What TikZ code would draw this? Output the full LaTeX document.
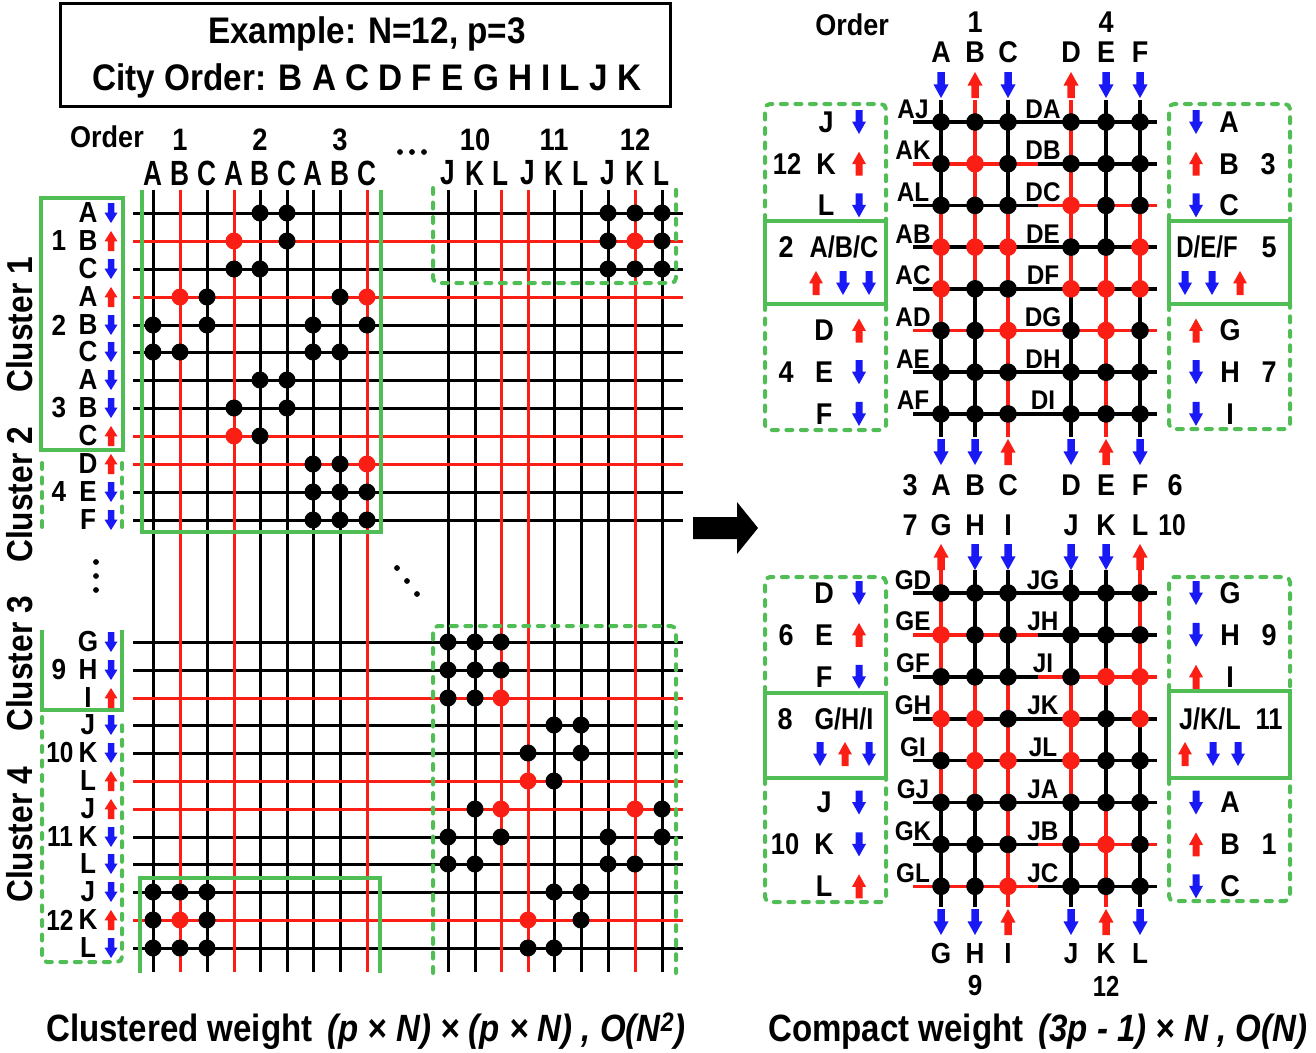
\documentclass[tikz,border=0pt]{standalone}
\usepackage{fontspec}
\setmainfont{Liberation Sans}
\usepackage{graphicx}
\definecolor{gred}{RGB}{250,30,20}
\definecolor{gblue}{RGB}{25,25,245}
\definecolor{ggreen}{RGB}{80,190,85}
\colorlet{Kc}{black}
\colorlet{Rc}{gred}
\newcommand\sx[2]{\scalebox{#1}[1]{#2}}
% down arrow: x, y-centre, length, head width, colour
\newcommand\ADn[5]{\fill[#5] ({#1-0.25*#4},{#2-0.5*#3}) -- ({#1+0.25*#4},{#2-0.5*#3}) -- ({#1+0.25*#4},{#2-0.02*#3}) -- ({#1+0.5*#4},{#2-0.02*#3}) -- ({#1},{#2+0.5*#3}) -- ({#1-0.5*#4},{#2-0.02*#3}) -- ({#1-0.25*#4},{#2-0.02*#3}) -- cycle;}
\newcommand\AUp[5]{\fill[#5] ({#1-0.25*#4},{#2+0.5*#3}) -- ({#1+0.25*#4},{#2+0.5*#3}) -- ({#1+0.25*#4},{#2+0.02*#3}) -- ({#1+0.5*#4},{#2+0.02*#3}) -- ({#1},{#2-0.5*#3}) -- ({#1-0.5*#4},{#2+0.02*#3}) -- ({#1-0.25*#4},{#2+0.02*#3}) -- cycle;}
\newcommand\vcol[3]{\foreach \vc [count=\vi from 0] in {#3} {\pgfmathsetmacro\ya{#2[\vi]}\pgfmathsetmacro\yb{#2[\vi+1]}\draw[line width=3.6,\vc] (#1,\ya) -- (#1,\yb);}}
\newcommand\drow[2]{\foreach \vd [count=\vj from 0] in {#2} {\pgfmathsetmacro\xx{\GX[\vj]}\fill[\vd] (\xx,#1) circle (8.8);}}
\newcommand\hrow[3]{\draw[line width=3.6,#2] (913,#1)--(1038,#1); \draw[line width=3.6,#3] (1038,#1)--(1157,#1);}
\def\GX{{941,975,1008,1071,1106,1140}}
\def\TY{{100,122,163.7,205.4,247.1,288.8,330.5,372.2,413.9,437}}
\def\BY{{570,593,634.9,676.8,718.7,760.6,802.5,844.4,886.3,907}}
\tikzset{
  tx/.style={inner sep=0pt, font=\bfseries\fontsize{#1}{#1}\selectfont},
  gsolid/.style={ggreen, line width=4.2},
  gdash/.style={ggreen, line width=4, dash pattern=on 6pt off 8.5pt, line cap=round, rounded corners=5},
  mline/.style={line width=3},
  bt/.style={tx=30},
}
\begin{document}
\begin{tikzpicture}[x=1pt,y=-1pt]
\useasboundingbox (0,0) rectangle (1316,1052);
% ---------- title ----------
\draw[line width=3] (60,3) rectangle (670,106);
\node[tx=37, anchor=base] (t1) at (367,43) {\sx{0.9}{Example: N=12, p=3}};
\node[tx=37, anchor=base] (t2) at (367,90) {\sx{0.9}{City Order: B A C D F E G H I L J K}};
% ---------- left matrix lines ----------
\foreach \x in {153,207,260,287,313,340,448,475,554,581,608,662} \draw[mline] (\x,190)--(\x,972);
\foreach \y in {213,269,325,352,380,408,492,520,642,670,725,753,837,864,892,948} \draw[mline] (133,\y)--(683,\y);
\foreach \x in {180,234,367,501,528,635} \draw[mline,gred] (\x,190)--(\x,972);
\foreach \y in {241,297,436,464,698,781,809,920} \draw[mline,gred] (133,\y)--(683,\y);
% dots
\foreach \x/\y in {260/213,287/213,287/241,234/269,260/269,207/297,340/297,153/325,207/325,313/325,367/325,153/352,180/352,313/352,340/352,260/380,287/380,234/408,287/408,260/436,313/464,340/464,313/492,340/492,367/492,313/520,340/520,367/520,
608/213,635/213,662/213,608/241,662/241,608/269,635/269,662/269,
448/642,475/642,501/642,448/670,475/670,501/670,448/698,475/698,554/725,581/725,528/753,581/753,554/781,475/809,662/809,448/837,501/837,608/837,662/837,448/864,475/864,608/864,635/864,554/892,581/892,581/920,528/948,554/948,
153/892,180/892,207/892,153/920,207/920,153/948,180/948,207/948}
  \fill (\x,\y) circle (8.5);
\foreach \x/\y in {234/241,180/297,367/297,234/436,367/464,635/241,501/698,528/781,501/809,635/809,528/920,180/920}
  \fill[gred] (\x,\y) circle (8.5);
% green frames on matrix
\draw[gsolid] (142,190) -- (142,532) -- (381,532) -- (381,190);
\draw[gdash] (433,188) -- (433,283) -- (676,283) -- (676,188);
\draw[gdash] (433,973) -- (433,626) -- (676,626) -- (676,973);
\draw[gsolid] (140,973) -- (140,878) -- (380,878) -- (380,973);
% row-label frames
\draw[gsolid] (41,198) rectangle (123,450);
\draw[gdash] (42,463) -- (42,532);
\draw[gdash] (122,463) -- (122,532);
\draw[gsolid] (42,630) -- (42,710) -- (122,710) -- (122,630);
\draw[gdash] (42,717) -- (42,962) -- (122,962) -- (122,717);
% headers
\node[tx=30] (ordL) at (107,137) {\sx{0.9}{Order}};
\foreach \x/\t in {180/1,260/2,340/3,475/10,554/11,635/12} \node[tx=31] (n\t) at (\x,140) {\sx{0.88}{\t}};
\foreach \x/\t [count=\k] in {153/A,180/B,207/C,234/A,260/B,287/C,313/A,340/B,367/C,448/J,475/K,501/L,528/J,554/K,581/L,608/J,635/K,662/L}
  \node[tx=35] (cl\k) at (\x,173) {\sx{0.75}{\t}};
\foreach \x in {400,412,424} \fill (\x,152) circle (2.9);
\fill (397,568) circle (2.9); \fill (407,581) circle (2.9); \fill (417,594) circle (2.9);
\fill (96,562) circle (2.9); \fill (96,576) circle (2.9); \fill (96,590) circle (2.9);
% row labels
\foreach \y/\t [count=\k] in {213/A,241/B,269/C,297/A,325/B,352/C,380/A,408/B,436/C,464/D,492/E,520/F,642/G,670/H,698/I,725/J,753/K,781/L,809/J,837/K,864/L,892/J,920/K,948/L}
  \node[tx=29] (rl\k) at (88,\y) {\sx{0.9}{\t}};
\foreach \y/\t in {241/1,325/2,408/3,492/4,670/9}
  \node[tx=29] (ro\t) at (59,\y) {\sx{0.9}{\t}};
\foreach \y/\t in {753/10,837/11,920/12}
  \node[tx=29] (ro\t) at (60,\y) {\sx{0.84}{\t}};
\foreach \y in {213,269,325,352,380,408,492,520,642,670,725,753,837,864,892,948} {\ADn{111}{\y}{20}{13}{gblue}}
\foreach \y in {241,297,436,464,698,781,809,920} {\AUp{111}{\y}{20}{13}{gred}}
% cluster labels
\node[tx=36, rotate=90] (c1) at (20,325) {\sx{0.88}{Cluster 1}};
\node[tx=36, rotate=90] (c2) at (20,495) {\sx{0.88}{Cluster 2}};
\node[tx=36, rotate=90] (c3) at (20,664) {\sx{0.88}{Cluster 3}};
\node[tx=36, rotate=90] (c4) at (20,835) {\sx{0.88}{Cluster 4}};
% big arrow
\fill (693,517) -- (737,517) -- (737,502) -- (758,528) -- (737,554) -- (737,539) -- (693,539) -- cycle;
% ---------- right: top grid ----------
\hrow{122}{Kc}{Kc}
\hrow{163.7}{Rc}{Kc}
\hrow{205.4}{Kc}{Rc}
\hrow{247.1}{Kc}{Kc}
\hrow{288.8}{Kc}{Kc}
\hrow{330.5}{Rc}{Rc}
\hrow{372.2}{Kc}{Kc}
\hrow{413.9}{Kc}{Kc}
\vcol{941}{\TY}{Kc,Kc,Kc,Rc,Rc,Rc,Kc,Kc,Kc}
\vcol{975}{\TY}{Rc,Rc,Rc,Rc,Rc,Kc,Kc,Kc,Kc}
\vcol{1008}{\TY}{Kc,Kc,Kc,Rc,Rc,Rc,Rc,Rc,Rc}
\vcol{1071}{\TY}{Rc,Rc,Rc,Rc,Rc,Kc,Kc,Kc,Kc}
\vcol{1106}{\TY}{Kc,Kc,Kc,Kc,Rc,Rc,Rc,Rc,Rc}
\vcol{1140}{\TY}{Kc,Kc,Kc,Rc,Rc,Kc,Kc,Kc,Kc}
\drow{122}{Kc,Kc,Kc,Kc,Kc,Kc}
\drow{163.7}{Kc,Rc,Kc,Kc,Kc,Kc}
\drow{205.4}{Kc,Kc,Kc,Rc,Kc,Kc}
\drow{247.1}{Rc,Rc,Rc,Kc,Kc,Rc}
\drow{288.8}{Rc,Kc,Kc,Rc,Rc,Rc}
\drow{330.5}{Kc,Kc,Rc,Kc,Rc,Kc}
\drow{372.2}{Kc,Kc,Kc,Kc,Kc,Kc}
\drow{413.9}{Kc,Kc,Kc,Kc,Kc,Kc}
\foreach \y/\a/\b in {122/AJ/DA,163.7/AK/DB,205.4/AL/DC,247.1/AB/DE,288.8/AC/DF,330.5/AD/DG,372.2/AE/DH,413.9/AF/DI}
  {\node[tx=27, anchor=base] (l\a) at (913,\y-4) {\sx{0.9}{\a}}; \node[tx=27, anchor=base] (l\b) at (1043,\y-4) {\sx{0.9}{\b}};}
% top arrows and labels
\ADn{941}{85}{26}{15}{gblue} \AUp{975}{85}{26}{15}{gred} \ADn{1008}{85}{26}{15}{gblue}
\AUp{1071}{85}{26}{15}{gred} \ADn{1106}{85}{26}{15}{gblue} \ADn{1140}{85}{26}{15}{gblue}
\ADn{941}{452}{26}{15}{gblue} \ADn{975}{452}{26}{15}{gblue} \AUp{1008}{452}{26}{15}{gred}
\ADn{1071}{452}{26}{15}{gblue} \AUp{1106}{452}{26}{15}{gred} \ADn{1140}{452}{26}{15}{gblue}
\node[tx=30] (ordR) at (852,25) {\sx{0.9}{Order}};
\node[tx=30] (o1) at (975,22) {\sx{0.9}{1}};
\node[tx=30] (o4) at (1106,22) {\sx{0.9}{4}};
\foreach \x/\t in {941/A,975/B,1008/C,1071/D,1106/E,1140/F} {\node[tx=30] (ta\t) at (\x,52) {\sx{0.9}{\t}}; \node[tx=30] (tb\t) at (\x,485) {\sx{0.9}{\t}};}
\node[tx=30] (o3) at (910,485) {\sx{0.9}{3}};
\node[tx=30] (o6) at (1175,485) {\sx{0.9}{6}};
\foreach \x/\t in {941/G,975/H,1008/I,1071/J,1106/K,1140/L} {\node[tx=30] (ba\t) at (\x,525) {\sx{0.9}{\t}}; \node[tx=29] (bb\t) at (\x,954) {\sx{0.9}{\t}};}
\node[tx=30] (o7) at (910,525) {\sx{0.9}{7}};
\node[tx=30] (o10) at (1172,525) {\sx{0.82}{10}};
\node[tx=29] (o9) at (975,986) {\sx{0.9}{9}};
\node[tx=29] (o12) at (1106,986) {\sx{0.82}{12}};
% ---------- right: bottom grid ----------
\hrow{593}{Kc}{Kc}
\hrow{634.9}{Rc}{Kc}
\hrow{676.8}{Kc}{Rc}
\hrow{718.7}{Kc}{Kc}
\hrow{760.6}{Kc}{Kc}
\hrow{802.5}{Kc}{Kc}
\hrow{844.4}{Kc}{Rc}
\hrow{886.3}{Rc}{Kc}
\vcol{941}{\BY}{Rc,Rc,Rc,Rc,Rc,Rc,Kc,Kc,Kc}
\vcol{975}{\BY}{Kc,Kc,Kc,Rc,Rc,Rc,Kc,Kc,Kc}
\vcol{1008}{\BY}{Kc,Kc,Kc,Rc,Rc,Rc,Rc,Rc,Rc}
\vcol{1071}{\BY}{Kc,Kc,Kc,Rc,Rc,Rc,Kc,Kc,Kc}
\vcol{1106}{\BY}{Kc,Kc,Kc,Kc,Kc,Kc,Rc,Rc,Rc}
\vcol{1140}{\BY}{Rc,Rc,Rc,Rc,Kc,Kc,Kc,Kc,Kc}
\drow{593}{Kc,Kc,Kc,Kc,Kc,Kc}
\drow{634.9}{Rc,Kc,Kc,Kc,Kc,Kc}
\drow{676.8}{Kc,Kc,Kc,Kc,Rc,Rc}
\drow{718.7}{Rc,Rc,Kc,Rc,Kc,Rc}
\drow{760.6}{Kc,Rc,Rc,Rc,Kc,Kc}
\drow{802.5}{Kc,Kc,Kc,Kc,Kc,Kc}
\drow{844.4}{Kc,Kc,Kc,Kc,Rc,Kc}
\drow{886.3}{Kc,Kc,Rc,Kc,Kc,Kc}
\foreach \y/\a/\b in {593/GD/JG,634.9/GE/JH,676.8/GF/JI,718.7/GH/JK,760.6/GI/JL,802.5/GJ/JA,844.4/GK/JB,886.3/GL/JC}
  {\node[tx=27, anchor=base] (l\a) at (913,\y-4) {\sx{0.9}{\a}}; \node[tx=27, anchor=base] (l\b) at (1043,\y-4) {\sx{0.9}{\b}};}
\AUp{941}{557}{26}{15}{gred} \ADn{975}{557}{26}{15}{gblue} \ADn{1008}{557}{26}{15}{gblue}
\ADn{1071}{557}{26}{15}{gblue} \ADn{1106}{557}{26}{15}{gblue} \AUp{1140}{557}{26}{15}{gred}
\ADn{941}{922}{26}{15}{gblue} \ADn{975}{922}{26}{15}{gblue} \AUp{1008}{922}{26}{15}{gred}
\ADn{1071}{922}{26}{15}{gblue} \AUp{1106}{922}{26}{15}{gred} \ADn{1140}{922}{26}{15}{gblue}
% ---------- right: side boxes ----------
\draw[gdash] (765,221) -- (765,104) -- (886,104) -- (886,221);
\draw[gdash] (765,304) -- (765,430) -- (886,430) -- (886,304);
\draw[gsolid] (765,221) rectangle (886,304);
\draw[gdash] (1169,221) -- (1169,104) -- (1290,104) -- (1290,221);
\draw[gdash] (1169,304) -- (1169,429) -- (1290,429) -- (1290,304);
\draw[gsolid] (1169,221) rectangle (1290,304);
\draw[gdash] (765,693) -- (765,577) -- (886,577) -- (886,693);
\draw[gdash] (765,778) -- (765,902) -- (886,902) -- (886,778);
\draw[gsolid] (765,693) rectangle (886,778);
\draw[gdash] (1169,691) -- (1169,577) -- (1290,577) -- (1290,691);
\draw[gdash] (1169,778) -- (1169,901) -- (1290,901) -- (1290,778);
\draw[gsolid] (1169,691) rectangle (1290,778);
% top-left boxes
\node[bt] (bJ) at (826,122) {\sx{0.9}{J}}; \ADn{859}{122}{24}{14}{gblue}
\node[bt] (bK) at (826,163.7) {\sx{0.9}{K}}; \AUp{859}{163.7}{24}{14}{gred}
\node[bt] (bL) at (826,205.4) {\sx{0.9}{L}}; \ADn{859}{205.4}{24}{14}{gblue}
\node[bt] (b12) at (787,163.7) {\sx{0.85}{12}};
\node[bt] (b2) at (786,247) {\sx{0.9}{2}};
\node[bt] (bABC) at (844,247) {\sx{0.84}{A/B/C}};
\AUp{816}{283}{24}{14}{gred} \ADn{843}{283}{24}{14}{gblue} \ADn{869}{283}{24}{14}{gblue}
\node[bt] (bD) at (824,330.5) {\sx{0.9}{D}}; \AUp{859}{330.5}{24}{14}{gred}
\node[bt] (bE) at (824,372.2) {\sx{0.9}{E}}; \ADn{859}{372.2}{24}{14}{gblue}
\node[bt] (bF) at (824,413.9) {\sx{0.9}{F}}; \ADn{859}{413.9}{24}{14}{gblue}
\node[bt] (b4) at (786,372.2) {\sx{0.9}{4}};
% top-right boxes
\ADn{1196}{122}{24}{14}{gblue} \node[bt] (cA) at (1229,122) {\sx{0.9}{A}};
\AUp{1196}{163.7}{24}{14}{gred} \node[bt] (cB) at (1229,163.7) {\sx{0.9}{B}};
\ADn{1196}{205.4}{24}{14}{gblue} \node[bt] (cC) at (1229,205.4) {\sx{0.9}{C}};
\node[bt] (c3n) at (1268,163.7) {\sx{0.9}{3}};
\node[bt] (cDEF) at (1207,247) {\sx{0.8}{D/E/F}};
\node[bt] (c5) at (1269,247) {\sx{0.9}{5}};
\ADn{1185}{283}{24}{14}{gblue} \ADn{1212}{283}{24}{14}{gblue} \AUp{1240}{283}{24}{14}{gred}
\AUp{1196}{330.5}{24}{14}{gred} \node[bt] (cG) at (1230,330.5) {\sx{0.9}{G}};
\ADn{1196}{372.2}{24}{14}{gblue} \node[bt] (cH) at (1230,372.2) {\sx{0.9}{H}};
\ADn{1196}{413.9}{24}{14}{gblue} \node[bt] (cI) at (1230,413.9) {\sx{0.9}{I}};
\node[bt] (c7) at (1269,372.2) {\sx{0.9}{7}};
% bottom-left boxes
\node[bt] (dD) at (824,593) {\sx{0.9}{D}}; \ADn{859}{593}{24}{14}{gblue}
\node[bt] (dE) at (824,634.9) {\sx{0.9}{E}}; \AUp{859}{634.9}{24}{14}{gred}
\node[bt] (dF) at (824,676.8) {\sx{0.9}{F}}; \ADn{859}{676.8}{24}{14}{gblue}
\node[bt] (d6) at (786,634.9) {\sx{0.9}{6}};
\node[bt] (d8) at (785,719) {\sx{0.9}{8}};
\node[bt] (dGHI) at (844,719) {\sx{0.84}{G/H/I}};
\ADn{820}{754}{24}{14}{gblue} \AUp{845}{754}{24}{14}{gred} \ADn{869}{754}{24}{14}{gblue}
\node[bt] (dJ) at (824,802.5) {\sx{0.9}{J}}; \ADn{859}{802.5}{24}{14}{gblue}
\node[bt] (dK) at (824,844.4) {\sx{0.9}{K}}; \ADn{859}{844.4}{24}{14}{gblue}
\node[bt] (dL) at (824,886.3) {\sx{0.9}{L}}; \AUp{859}{886.3}{24}{14}{gred}
\node[bt] (d10) at (785,844.4) {\sx{0.85}{10}};
% bottom-right boxes
\ADn{1196}{593}{24}{14}{gblue} \node[bt] (eG) at (1230,593) {\sx{0.9}{G}};
\ADn{1196}{634.9}{24}{14}{gblue} \node[bt] (eH) at (1230,634.9) {\sx{0.9}{H}};
\AUp{1196}{676.8}{24}{14}{gred} \node[bt] (eI) at (1230,676.8) {\sx{0.9}{I}};
\node[bt] (e9) at (1269,634.9) {\sx{0.9}{9}};
\node[bt] (eJKL) at (1210,719) {\sx{0.84}{J/K/L}};
\node[bt] (e11) at (1269,719) {\sx{0.85}{11}};
\AUp{1185}{754}{24}{14}{gred} \ADn{1213}{754}{24}{14}{gblue} \ADn{1238}{754}{24}{14}{gblue}
\ADn{1196}{802.5}{24}{14}{gblue} \node[bt] (eA) at (1230,802.5) {\sx{0.9}{A}};
\AUp{1196}{844.4}{24}{14}{gred} \node[bt] (eB) at (1230,844.4) {\sx{0.9}{B}};
\ADn{1196}{886.3}{24}{14}{gblue} \node[bt] (eC) at (1230,886.3) {\sx{0.9}{C}};
\node[bt] (e1) at (1269,844.4) {\sx{0.9}{1}};
% ---------- captions ----------
\node[tx=38, anchor=base west] (capL) at (46,1041) {\sx{0.87}{Clustered weight\hspace{0.45em}\itshape (p × N) × (p × N) , O(N\textsuperscript{2})}};
\node[tx=38, anchor=base west] (capR) at (768,1041) {\sx{0.87}{Compact weight\hspace{0.45em}\itshape (3p - 1) × N , O(N)}};
\end{tikzpicture}
\end{document}
